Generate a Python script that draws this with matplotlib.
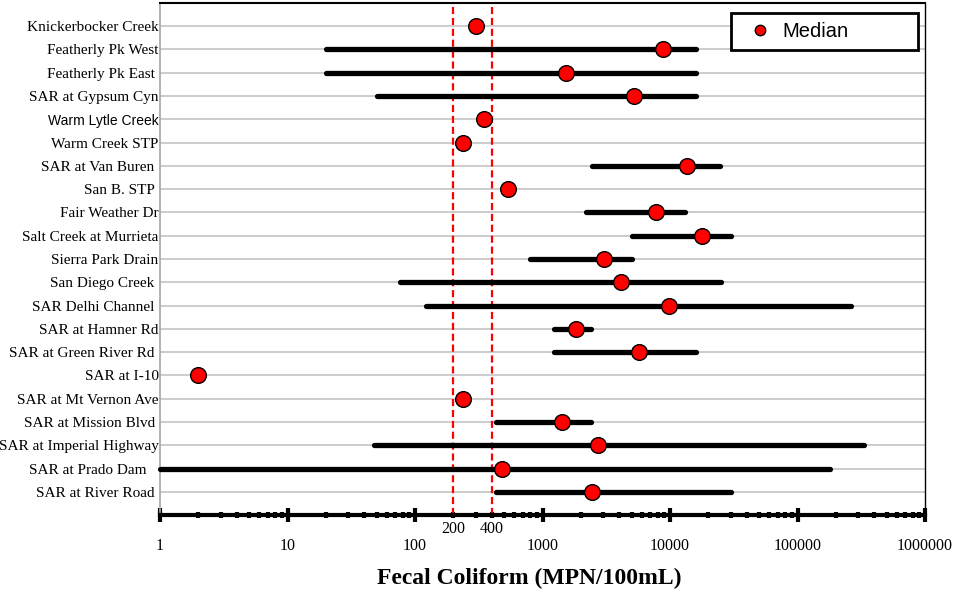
import matplotlib
matplotlib.use("Agg")
import matplotlib.pyplot as plt
from matplotlib.lines import Line2D
from matplotlib.ticker import LogLocator, NullFormatter
import numpy as np

# ---------------- data ----------------
sites = ["Knickerbocker Creek", "Featherly Pk West", "Featherly Pk East ",
         "SAR at Gypsum Cyn", "Warm Lytle Creek", "Warm Creek STP",
         "SAR at Van Buren ", "San B. STP ", "Fair Weather Dr",
         "Salt Creek at Murrieta", "Sierra Park Drain", "San Diego Creek ",
         "SAR Delhi Channel ", "SAR at Hamner Rd", "SAR at Green River Rd ",
         "SAR at I-10", "SAR at Mt Vernon Ave", "SAR at Mission Blvd ",
         "SAR at Imperial Highway", "SAR at Prado Dam   ", "SAR at River Road "]
medians = [303, 8760, 1520, 5190, 350, 240, 13500, 541, 7720, 17700, 3010,
           4160, 9860, 1820, 5740, 2, 240, 1420, 2720, 483, 2430]
mins = [None, 20, 20, 50, None, None, 2450, None, 2200, 5000, 800, 76, 122,
        1220, 1220, None, None, 430, 48, 1, 430]
maxs = [None, 16000, 16000, 16000, None, None, 24500, None, 13200, 30000,
        5000, 25000, 265000, 2420, 16000, None, None, 2420, 335000, 180000, 30000]
standards = [200, 400]
decades = [1, 10, 100, 1000, 10000, 100000, 1000000]
decade_labels = ["1", "10", "100", "1000", "10000", "100000", "1000000"]

# ---------------- figure ----------------
W, H = 956, 594
fig = plt.figure(figsize=(W / 100, H / 100), dpi=100)
ax = fig.add_axes([160 / W, 1 - 515 / H, 765 / W, 512 / H])
ax.set_xscale("log")
ax.set_xlim(1, 1e6)
ypos = np.arange(len(sites))
ax.set_ylim(len(sites) - 0.01, -0.99)

# gridlines
ax.set_axisbelow(True)
ax.grid(axis="y", color="#c4c4c4", lw=1.2)
ax.grid(axis="x", visible=False)

# standards
for s in standards:
    ax.axvline(s, color="#ff0000", lw=1.6, ls=(0, (3.2, 1.7)), zorder=2)

# range bars
for y, lo, hi in zip(ypos, mins, maxs):
    if lo is None:
        continue
    ax.plot([lo, hi], [y, y], color="black", lw=3.8, solid_capstyle="round",
            zorder=3, clip_on=False)

# medians
ax.plot(medians, ypos, ls="none", marker="o", ms=11.3, mfc="#ff0000",
        mec="black", mew=1.0, zorder=4, clip_on=False)

# y labels
ax.set_yticks(ypos)
ax.set_yticklabels(sites, family="Liberation Serif", fontsize=11)
ax.tick_params(axis="y", length=0, pad=1)
for lab in ax.get_yticklabels():
    if lab.get_text().startswith("Warm Lytle"):
        lab.set_family("Liberation Sans")
        lab.set_fontsize(10)

# x ticks
ax.set_xticks(decades)
ax.set_xticklabels(decade_labels, family="Liberation Serif", fontsize=11.5)
ax.xaxis.set_minor_locator(LogLocator(base=10, subs=np.arange(2, 10), numticks=20))
ax.xaxis.set_minor_formatter(NullFormatter())
ax.tick_params(axis="x", which="major", direction="inout", length=10, width=3,
               pad=11.5, color="black")
ax.tick_params(axis="x", which="minor", direction="inout", length=5, width=3,
               color="black")
for s in standards:
    ax.text(s, -0.027, str(s), transform=ax.get_xaxis_transform(), ha="center",
            va="center", family="Liberation Serif", fontsize=11.5)

# spines
ax.spines["left"].set_color("#a6a6a6")
ax.spines["left"].set_linewidth(1.2)
ax.spines["top"].set_color("black")
ax.spines["top"].set_linewidth(1.5)
ax.spines["right"].set_color("black")
ax.spines["right"].set_linewidth(1.0)
ax.spines["bottom"].set_color("black")
ax.spines["bottom"].set_linewidth(3)

# x label
ax.set_xlabel("Fecal Coliform (MPN/100mL)", family="Liberation Serif",
              fontsize=17, fontweight="bold")
ax.xaxis.set_label_coords((529 - 160) / 765, (515 - 578) / 512)
ax.xaxis.label.set_va("center")

# legend
handle = Line2D([], [], ls="none", marker="o", ms=7.5, mfc="#ff0000",
                mec="black", mew=1.0)
leg = ax.legend([handle], ["Median"], loc="upper left", mode="expand",
                bbox_to_anchor=(731 / W, 1 - 53 / H, 187 / W, 40 / H),
                bbox_transform=fig.transFigure, borderaxespad=0,
                prop={"family": "Liberation Sans", "size": 14.5},
                handletextpad=0.1, borderpad=0.45, fancybox=False,
                framealpha=1, edgecolor="black")
leg.get_frame().set_linewidth(2)
leg.set_zorder(10)

fig.savefig("out.png", dpi=100)
